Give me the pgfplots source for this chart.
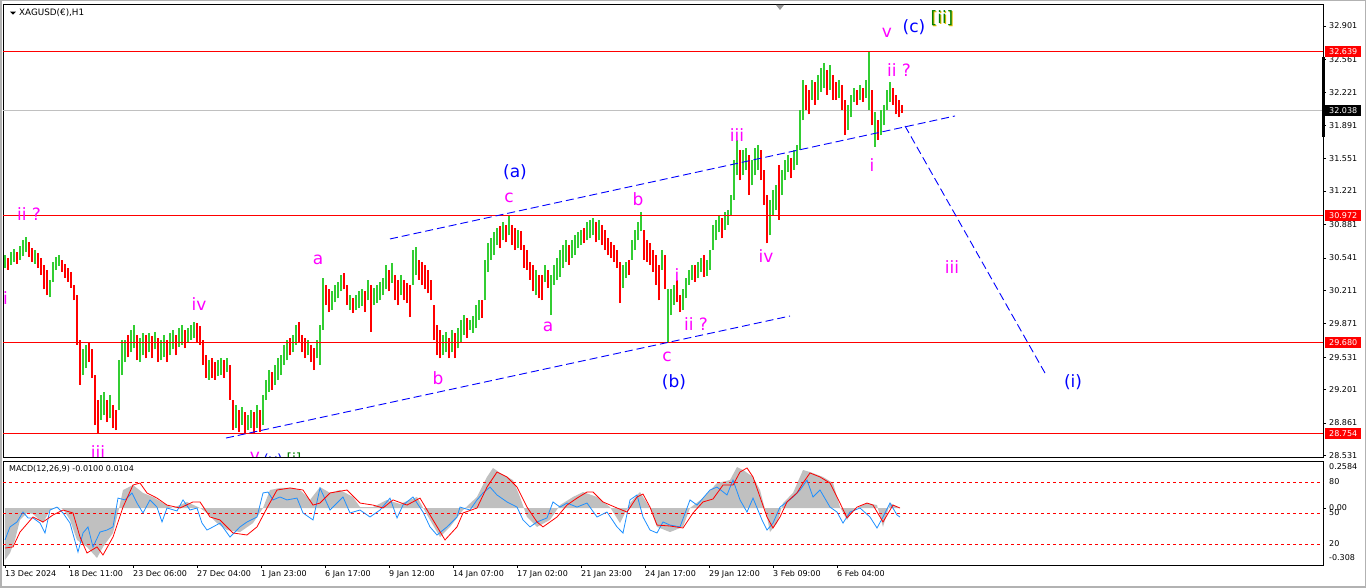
\documentclass[border=0pt]{standalone}
\usepackage{pgfplots}
\pgfplotsset{compat=1.18}
\usepackage{pgfplotstable}
\usetikzlibrary{backgrounds}
\usepackage{fontspec}
\setmainfont{DejaVu Sans}
\definecolor{cgreen}{RGB}{50,205,50}
\definecolor{cred}{RGB}{255,0,0}
\definecolor{cmag}{RGB}{255,0,255}
\definecolor{cblue}{RGB}{0,0,255}
\definecolor{macdblue}{RGB}{30,144,255}
\definecolor{histgray}{RGB}{192,192,192}
\definecolor{wgreen}{RGB}{0,128,0}
\definecolor{wyellow}{RGB}{230,190,0}

% H1 candles: x (bar position), low, high, d (1 = up, 0 = down)
\pgfplotstableread{
x lo hi d
5 30.44 30.57 1
8 30.42 30.54 0
11 30.47 30.60 1
14 30.50 30.63 1
17 30.48 30.60 0
20 30.52 30.66 1
23 30.56 30.72 1
26 30.60 30.75 1
29 30.55 30.70 0
32 30.50 30.64 0
35 30.48 30.62 1
38 30.44 30.59 0
41 30.37 30.54 0
44 30.22 30.47 0
47 30.16 30.42 0
50 30.14 30.32 1
53 30.30 30.50 1
56 30.42 30.55 1
59 30.46 30.57 1
62 30.40 30.52 0
65 30.34 30.48 0
68 30.30 30.44 0
71 30.24 30.40 0
74 30.11 30.27 0
77 29.66 30.16 0
80 29.25 29.71 0
83 29.35 29.61 1
86 29.42 29.66 1
89 29.48 29.69 0
92 29.32 29.61 0
95 28.84 29.35 0
98 28.76 29.10 0
101 28.89 29.15 1
104 28.94 29.18 1
107 28.87 29.10 0
110 28.91 29.15 1
113 28.81 29.05 0
116 28.79 28.99 0
119 28.99 29.50 1
122 29.35 29.71 1
125 29.48 29.71 1
128 29.53 29.76 0
131 29.58 29.81 1
134 29.62 29.86 1
137 29.50 29.76 0
140 29.48 29.73 1
143 29.55 29.78 1
146 29.52 29.76 0
149 29.58 29.78 1
152 29.52 29.75 0
155 29.61 29.79 1
158 29.48 29.73 0
161 29.50 29.71 1
164 29.53 29.76 1
167 29.48 29.71 0
170 29.55 29.78 1
173 29.61 29.81 1
176 29.55 29.76 0
179 29.64 29.83 1
182 29.66 29.86 1
185 29.62 29.81 0
188 29.69 29.83 1
191 29.71 29.86 1
194 29.73 29.89 1
197 29.69 29.88 0
200 29.66 29.85 0
203 29.45 29.71 0
206 29.32 29.55 0
209 29.30 29.50 1
212 29.32 29.52 0
215 29.30 29.48 0
218 29.34 29.50 1
221 29.35 29.52 1
224 29.32 29.50 0
227 29.38 29.52 1
230 29.10 29.45 0
233 28.79 29.10 0
236 28.81 29.05 1
239 28.77 28.99 0
242 28.84 29.02 1
245 28.76 28.97 0
248 28.79 28.94 1
251 28.81 28.99 1
254 28.76 28.97 0
257 28.81 29.05 1
260 28.77 28.99 0
263 28.84 29.15 1
266 29.10 29.30 1
269 29.18 29.40 1
272 29.20 29.38 0
275 29.25 29.45 1
278 29.30 29.52 1
281 29.35 29.55 1
284 29.45 29.66 1
287 29.50 29.71 1
290 29.55 29.73 0
293 29.58 29.76 1
296 29.66 29.86 1
299 29.69 29.89 0
302 29.58 29.76 0
305 29.52 29.73 0
308 29.55 29.71 1
311 29.48 29.66 0
314 29.40 29.62 0
317 29.52 29.71 1
320 29.45 29.86 1
323 29.81 30.34 1
326 30.06 30.27 0
329 29.99 30.22 0
332 30.01 30.20 1
335 30.09 30.27 1
338 30.13 30.30 1
341 30.20 30.37 1
344 30.22 30.39 0
347 30.06 30.27 0
350 30.01 30.16 1
353 29.98 30.13 0
356 30.01 30.16 1
359 30.03 30.20 1
362 30.05 30.22 1
365 29.99 30.20 0
368 30.11 30.32 1
371 29.79 30.27 0
374 30.06 30.24 1
377 30.08 30.27 1
380 30.11 30.30 1
383 30.16 30.34 1
386 30.22 30.47 1
389 30.20 30.42 0
392 30.29 30.49 1
395 30.11 30.37 0
398 30.06 30.32 0
401 30.16 30.37 1
404 30.11 30.32 0
407 30.08 30.29 0
410 29.94 30.27 0
413 30.27 30.62 1
416 30.37 30.65 1
419 30.32 30.52 0
422 30.27 30.50 0
425 30.22 30.47 0
428 30.18 30.42 0
431 30.11 30.32 0
434 29.71 30.06 0
437 29.55 29.86 0
440 29.52 29.81 0
443 29.55 29.76 1
446 29.58 29.79 1
449 29.52 29.73 0
452 29.58 29.81 1
455 29.52 29.78 0
458 29.62 29.83 1
461 29.69 29.91 1
464 29.76 29.96 1
467 29.73 29.93 0
470 29.81 29.91 1
473 29.78 29.95 1
476 29.83 30.06 1
479 29.91 30.11 1
482 29.93 30.11 0
485 30.11 30.52 1
488 30.40 30.69 1
491 30.52 30.74 1
494 30.57 30.80 1
497 30.67 30.85 1
500 30.64 30.87 0
503 30.72 30.91 1
506 30.70 30.88 0
509 30.77 30.98 1
512 30.67 30.88 0
515 30.62 30.85 0
518 30.64 30.83 1
521 30.62 30.81 0
524 30.44 30.67 0
527 30.42 30.62 0
530 30.32 30.50 0
533 30.20 30.47 0
536 30.16 30.42 1
539 30.13 30.37 0
542 30.11 30.37 0
545 30.30 30.47 1
548 30.24 30.42 0
551 29.96 30.37 1
554 30.27 30.47 1
557 30.32 30.54 1
560 30.35 30.62 1
563 30.44 30.67 1
566 30.50 30.72 1
569 30.47 30.67 0
572 30.54 30.72 1
575 30.57 30.77 1
578 30.64 30.80 1
581 30.67 30.83 1
584 30.69 30.85 0
587 30.72 30.91 1
590 30.74 30.93 1
593 30.77 30.95 1
596 30.70 30.91 0
599 30.72 30.93 1
602 30.67 30.88 0
605 30.62 30.83 0
608 30.57 30.74 0
611 30.54 30.70 0
614 30.50 30.67 0
617 30.44 30.62 0
620 30.08 30.50 0
623 30.24 30.47 1
626 30.34 30.50 1
629 30.37 30.52 0
632 30.52 30.72 1
635 30.62 30.83 1
638 30.72 30.91 1
641 30.81 31.01 1
644 30.52 30.83 0
647 30.50 30.72 0
650 30.47 30.69 0
653 30.40 30.62 0
656 30.27 30.57 0
659 30.11 30.47 0
662 30.42 30.62 1
665 30.22 30.57 0
668 29.68 30.22 1
671 29.96 30.22 1
674 30.06 30.27 1
677 30.09 30.32 0
680 29.99 30.16 0
683 30.01 30.22 1
686 30.13 30.34 1
689 30.27 30.42 1
692 30.32 30.47 1
695 30.30 30.47 0
698 30.34 30.50 1
701 30.40 30.54 1
704 30.35 30.57 0
707 30.36 30.52 1
710 30.42 30.62 1
713 30.62 30.88 1
716 30.72 30.93 1
719 30.80 30.98 1
722 30.74 30.95 0
725 30.83 31.01 1
728 30.88 31.03 1
731 30.98 31.18 1
734 31.13 31.54 1
737 31.38 31.74 1
740 31.33 31.64 0
743 31.38 31.64 1
746 31.44 31.66 1
749 31.18 31.59 0
752 31.28 31.54 1
755 31.38 31.66 1
758 31.44 31.69 1
761 31.33 31.64 0
764 31.08 31.44 0
767 30.69 31.18 0
770 30.77 31.13 1
773 30.98 31.23 1
776 31.03 31.28 1
779 30.93 31.49 0
782 31.18 31.44 1
785 31.33 31.54 1
788 31.42 31.59 1
791 31.35 31.56 0
794 31.44 31.64 1
797 31.49 31.69 1
800 31.64 32.05 1
803 31.94 32.35 1
806 32.05 32.30 0
809 32.00 32.25 0
812 32.15 32.35 1
815 32.10 32.33 0
818 32.15 32.40 1
821 32.23 32.47 1
824 32.27 32.52 1
827 32.20 32.45 0
830 32.25 32.50 1
833 32.15 32.40 0
836 32.15 32.33 0
839 32.17 32.35 1
842 32.05 32.30 0
845 31.79 32.15 0
848 31.84 32.10 1
851 31.97 32.20 1
854 32.13 32.27 1
857 32.10 32.25 0
860 32.15 32.30 1
863 32.13 32.27 0
866 32.17 32.35 1
869 32.05 32.64 1
872 31.89 32.25 0
875 31.67 32.03 1
878 31.74 31.94 0
881 31.79 32.05 1
884 31.89 32.10 1
887 32.05 32.25 1
890 32.13 32.33 1
893 32.10 32.27 0
896 32.00 32.20 0
899 31.97 32.15 0
902 32.02 32.10 0
}\candles

% MACD histogram
\pgfplotstableread{
x v
5 0
5 -0.283
10 -0.245
15 -0.174
20 -0.065
27 -0.027
33 -0.033
43 -0.082
50 -0.011
57 0.005
63 -0.005
70 -0.065
77 -0.174
87 -0.212
97 -0.272
103 -0.212
113 -0.136
118 -0.027
123 0.098
133 0.125
143 0.082
153 0.060
163 0.027
173 0
187 0.033
200 0
207 -0.027
217 -0.082
227 -0.120
240 -0.131
253 -0.082
263 0
270 0.098
280 0.109
293 0.109
300 0.098
310 0.044
320 0.114
330 0.082
340 0.098
353 0.060
360 0.005
373 0.005
387 0.044
400 0.022
417 0.060
430 -0.065
440 -0.158
450 -0.103
463 -0.011
477 0.060
487 0.169
493 0.218
500 0.191
513 0.152
520 0.060
527 -0.049
537 -0.103
550 -0.065
560 0.016
573 0.060
583 0.087
597 0.060
610 0.005
620 -0.082
630 0.027
640 0.087
650 0
657 -0.103
670 -0.131
683 -0.103
690 0
703 0.054
717 0.136
730 0.152
737 0.223
743 0.207
753 0.169
760 0.098
767 -0.049
770 -0.131
777 -0.082
783 0.027
793 0.082
803 0.207
810 0.196
823 0.169
833 0.136
840 0.005
847 -0.065
853 -0.011
867 0.027
877 0.016
883 -0.103
890 0.027
900 0
}\hist

% signal line
\pgfplotstableread{
x v
5 -0.218
13 -0.212
20 -0.131
33 -0.049
43 -0.076
53 -0.038
63 -0.011
73 -0.027
80 -0.158
87 -0.245
97 -0.212
103 -0.256
113 -0.158
123 0.005
133 0.125
140 0.136
147 0.082
157 0.054
167 0.016
180 0
193 0.033
200 0.033
210 -0.049
220 -0.065
233 -0.136
247 -0.147
257 -0.103
267 0
277 0.098
290 0.109
303 0.098
313 0.016
320 0.027
330 0.082
347 0.098
360 0.027
373 0.016
383 0
393 0.044
407 0.016
420 0.054
433 -0.065
445 -0.174
457 -0.103
463 -0.027
477 0
487 0.114
497 0.196
507 0.169
517 0.114
527 0.005
537 -0.076
543 -0.103
557 -0.049
567 0.016
577 0.054
587 0.087
593 0.087
603 0.033
617 0
627 -0.022
637 0.060
643 0.076
650 0.005
657 -0.093
670 -0.098
683 -0.109
693 -0.027
703 0.033
713 0.049
723 0.125
733 0.125
740 0.196
747 0.218
753 0.169
760 0.060
767 -0.049
773 -0.109
780 -0.049
787 0.033
797 0.082
803 0.136
810 0.191
820 0.169
830 0.136
840 0.027
847 -0.054
857 0.005
867 0.027
873 0.016
883 -0.076
893 0.016
900 0
}\signal

% oscillator line
\pgfplotstableread{
x v
5 -0.174
10 -0.103
17 -0.076
23 -0.022
28 -0.054
33 -0.054
40 -0.082
45 -0.136
50 -0.011
57 0.005
63 -0.027
70 -0.082
78 -0.240
83 -0.136
88 -0.103
93 -0.212
100 -0.131
107 -0.120
113 -0.103
118 0.054
125 0.044
132 0.082
137 0.027
143 -0.027
150 0.044
157 0.005
162 -0.076
167 0
177 -0.016
183 0.044
190 -0.011
197 0
202 -0.082
207 -0.120
213 -0.103
220 -0.082
230 -0.158
240 -0.103
247 -0.076
257 -0.049
263 0.082
268 0.087
273 0.044
280 0.060
287 0.044
297 0.054
303 -0.027
313 -0.065
320 0.109
330 -0.011
337 0.027
343 0.060
350 -0.027
360 -0.011
370 -0.049
380 -0.011
390 0.054
397 -0.054
403 0.016
413 0.060
423 -0.022
430 -0.103
437 -0.147
447 -0.103
457 -0.049
460 0.005
470 -0.011
477 0.044
483 0.082
490 0.114
497 0.071
507 0.033
517 0.005
523 -0.065
530 -0.103
537 -0.076
547 -0.054
553 0.033
560 0.005
567 0.027
577 0.005
587 0.027
597 -0.049
607 -0.022
617 -0.103
623 -0.136
630 0.044
637 0.071
643 -0.049
650 -0.120
657 -0.136
663 -0.076
670 -0.093
680 -0.103
690 0.044
697 0.016
703 0.054
710 0.098
717 0.114
727 0.071
733 0.152
740 0.044
747 -0.022
753 0.054
762 -0.065
767 -0.120
773 -0.082
780 0.005
787 0.033
793 0.060
800 0.098
807 0.152
813 0.060
820 0.098
830 0.005
837 -0.022
843 -0.082
850 -0.022
860 0
870 -0.049
877 -0.109
883 -0.049
890 0.027
897 -0.038
900 -0.049
}\osc

\begin{document}
\begin{tikzpicture}[
  wl/.style={font=\fontsize{17}{17}\selectfont, text=cmag, inner sep=0pt},
  bl/.style={font=\fontsize{17}{17}\selectfont, text=cblue, inner sep=0pt},
  pbox/.style={font=\fontsize{8}{9}\selectfont, text=white, inner sep=0pt, minimum width=36pt, minimum height=11pt, anchor=west}]

\begin{axis}[
  name=main,
  at={(0pt,0pt)}, anchor=south west, scale only axis,
  width=1320pt, height=453pt,
  xmin=3, xmax=1323, ymin=28.516, ymax=33.124,
  axis line style={line width=0.8pt},
  xtick=\empty,
  ytick={28.531,28.861,29.201,29.531,29.871,30.211,30.541,30.881,31.221,31.551,31.891,32.221,32.561,32.901},
  yticklabels={28.531,28.861,29.201,29.531,29.871,30.211,30.541,30.881,31.221,31.551,31.891,32.221,32.561,32.901},
  ytick pos=right, yticklabel pos=right,
  tick align=outside, major tick length=3pt, tick style={black, line width=0.7pt},
  yticklabel style={font=\fontsize{8}{9}\selectfont, anchor=west, inner sep=0pt, xshift=3pt},
]
% current price line
\addplot[histgray, line width=0.8pt, forget plot] coordinates {(3,32.038) (1323,32.038)};
% candles
\addplot[draw=none, mark=none, forget plot,
  error bars/.cd, y dir=plus, y explicit, error mark=none,
  error bar style={draw=cgreen, line width=2.4pt}]
  table[x=x, y=lo, y error expr=\thisrow{hi}-\thisrow{lo},
        restrict expr to domain={\thisrow{d}}{0.5:1.5}] {\candles};
\addplot[draw=none, mark=none, forget plot,
  error bars/.cd, y dir=plus, y explicit, error mark=none,
  error bar style={draw=cred, line width=2.4pt}]
  table[x=x, y=lo, y error expr=\thisrow{hi}-\thisrow{lo},
        restrict expr to domain={\thisrow{d}}{-0.5:0.5}] {\candles};
% horizontal levels
\addplot[cred, line width=1pt, forget plot] coordinates {(3,32.639) (1323,32.639)};
\addplot[cred, line width=1pt, forget plot] coordinates {(3,30.972) (1323,30.972)};
\addplot[cred, line width=1pt, forget plot] coordinates {(3,29.680) (1323,29.680)};
\addplot[cred, line width=1pt, forget plot] coordinates {(3,28.754) (1323,28.754)};
% trend lines
\addplot[cblue, line width=0.9pt, dash pattern=on 8pt off 4pt, forget plot] coordinates {(390,30.734) (955,31.985)};
\addplot[cblue, line width=0.9pt, dash pattern=on 8pt off 4pt, forget plot] coordinates {(226,28.709) (790,29.950)};
\addplot[cblue, line width=0.9pt, dash pattern=on 8pt off 4pt, forget plot] coordinates {(905,31.883) (1045,29.370)};
% title
\fill (axis cs:10,33.047) -- (axis cs:16,33.047) -- (axis cs:13,33.017) -- cycle;
\node[anchor=west, inner sep=0pt, font=\fontsize{8.8}{10}\selectfont] at (axis cs:19,33.033) {XAGUSD(€),H1};
% wave labels
\node[wl] at (axis cs:29,30.988) {ii ?};
\node[wl] at (axis cs:5.5,30.133) {i};
\node[wl] at (axis cs:98,28.567) {iii};
\node[wl] at (axis cs:199,30.072) {iv};
\node[wl] at (axis cs:318,30.520) {a};
\node[wl] at (axis cs:255,28.520) {v};
\node[bl, font=\fontsize{14}{14}\selectfont] at (axis cs:273,28.485) {(v)};
\node[inner sep=0pt, text=wgreen, font=\fontsize{14}{14}\selectfont] at (axis cs:294,28.495) {[i]};
\node[wl] at (axis cs:438,29.320) {b};
\node[bl] at (axis cs:515,31.415) {(a)};
\node[wl] at (axis cs:509,31.151) {c};
\node[wl] at (axis cs:548,29.838) {a};
\node[wl] at (axis cs:638,31.140) {b};
\node[wl] at (axis cs:677,30.367) {i};
\node[wl] at (axis cs:696,29.869) {ii ?};
\node[wl] at (axis cs:667,29.533) {c};
\node[bl] at (axis cs:674,29.279) {(b)};
\node[wl] at (axis cs:737,31.792) {iii};
\node[wl] at (axis cs:766,30.561) {iv};
\node[wl] at (axis cs:872,31.486) {i};
\node[wl] at (axis cs:899,32.453) {ii ?};
\node[wl] at (axis cs:887,32.829) {v};
\node[bl] at (axis cs:914,32.890) {(c)};
\node[inner sep=0pt, text=wyellow, font=\fontsize{17}{17}\selectfont] at ([xshift=1pt,yshift=-1pt]axis cs:942,32.982) {[ii]};
\node[inner sep=0pt, text=wgreen, font=\fontsize{17}{17}\selectfont] at (axis cs:942,32.982) {[ii]};
\node[wl] at (axis cs:952,30.449) {iii};
\node[bl] at (axis cs:1073,29.279) {(i)};
% anchors for right-hand boxes
\coordinate (r1) at (axis cs:1323,32.639);
\coordinate (r2) at (axis cs:1323,30.972);
\coordinate (r3) at (axis cs:1323,29.680);
\coordinate (r4) at (axis cs:1323,28.754);
\coordinate (r5) at (axis cs:1323,32.038);
\coordinate (b1) at (axis cs:1323,32.585);
\coordinate (b2) at (axis cs:1323,31.771);
\coordinate (sh) at (axis cs:780,33.124);
\end{axis}

\draw[line width=3pt] ([xshift=0.5pt]b1) -- ([xshift=0.5pt]b2);
\node[pbox, fill=cred] at ([xshift=2pt]r1) {32.639};
\node[pbox, fill=cred] at ([xshift=2pt]r2) {30.972};
\node[pbox, fill=cred] at ([xshift=2pt]r3) {29.680};
\node[pbox, fill=cred] at ([xshift=2pt]r4) {28.754};
\node[pbox, fill=black] at ([xshift=2pt]r5) {32.038};
\fill[black!40] ([xshift=-4pt,yshift=-1pt]sh) -- ([xshift=4pt,yshift=-1pt]sh) -- ([yshift=-6pt]sh) -- cycle;

\begin{axis}[
  name=macd,
  at={(main.south west)}, anchor=north west, yshift=-4pt, scale only axis,
  width=1320pt, height=104pt,
  xmin=3, xmax=1323, ymin=-0.3104, ymax=0.256,
  clip=false,
  axis line style={line width=0.8pt},
  xtick={5,69,133,197,261,325,389,453,517,581,645,709,773,837},
  xticklabels={13 Dec 2024,18 Dec 11:00,23 Dec 06:00,27 Dec 04:00,1 Jan 23:00,6 Jan 17:00,9 Jan 12:00,14 Jan 07:00,17 Jan 02:00,21 Jan 23:00,24 Jan 17:00,29 Jan 12:00,3 Feb 09:00,6 Feb 04:00},
  xtick pos=bottom, xticklabel pos=bottom,
  ytick={0}, yticklabels={0.00},
  ytick pos=right, yticklabel pos=right,
  tick align=outside, major tick length=3pt, tick style={black, line width=0.7pt},
  xticklabel style={font=\fontsize{8}{9}\selectfont, anchor=north west, inner sep=0pt, yshift=-2pt},
  yticklabel style={font=\fontsize{8}{9}\selectfont, anchor=west, inner sep=0pt, xshift=3pt},
]
\addplot[fill=histgray, draw=none, forget plot] table[x=x, y=v] {\hist} \closedcycle;
\addplot[cred, line width=0.8pt, dash pattern=on 3pt off 3pt, forget plot] coordinates {(3,0.142) (1323,0.142)};
\addplot[cred, line width=0.8pt, dash pattern=on 3pt off 3pt, forget plot] coordinates {(3,-0.027) (1323,-0.027)};
\addplot[cred, line width=0.8pt, dash pattern=on 3pt off 3pt, forget plot] coordinates {(3,-0.196) (1323,-0.196)};
\addplot[macdblue, line width=0.8pt, forget plot] table[x=x, y=v] {\osc};
\addplot[cred, line width=0.8pt, forget plot] table[x=x, y=v] {\signal};
\node[anchor=west, inner sep=0pt, font=\fontsize{8}{9}\selectfont] at (axis cs:9,0.212) {MACD(12,26,9) -0.0100 0.0104};
\node[anchor=west, inner sep=0pt, font=\fontsize{8}{9}\selectfont] at (axis cs:1329,0.223) {0.2584};
\node[anchor=west, inner sep=0pt, font=\fontsize{8}{9}\selectfont] at (axis cs:1329,0.142) {80};
\node[anchor=west, inner sep=0pt, font=\fontsize{8}{9}\selectfont] at (axis cs:1329,-0.027) {50};
\node[anchor=west, inner sep=0pt, font=\fontsize{8}{9}\selectfont] at (axis cs:1329,-0.196) {20};
\node[anchor=west, inner sep=0pt, font=\fontsize{8}{9}\selectfont] at (axis cs:1329,-0.272) {-0.308};
\end{axis}

\coordinate (TL) at ([xshift=-3pt,yshift=4pt]main.north west);
\coordinate (BR) at ([xshift=43pt,yshift=-23pt]macd.south east);
\begin{scope}[on background layer]
\fill[white] (TL) rectangle (BR);
\end{scope}
\draw[black!30, line width=1.5pt] ([shift={(0.75pt,-0.75pt)}]TL) rectangle ([shift={(-0.75pt,0.75pt)}]BR);
\pgfresetboundingbox
\useasboundingbox (TL) rectangle (BR);
\end{tikzpicture}
\end{document}
